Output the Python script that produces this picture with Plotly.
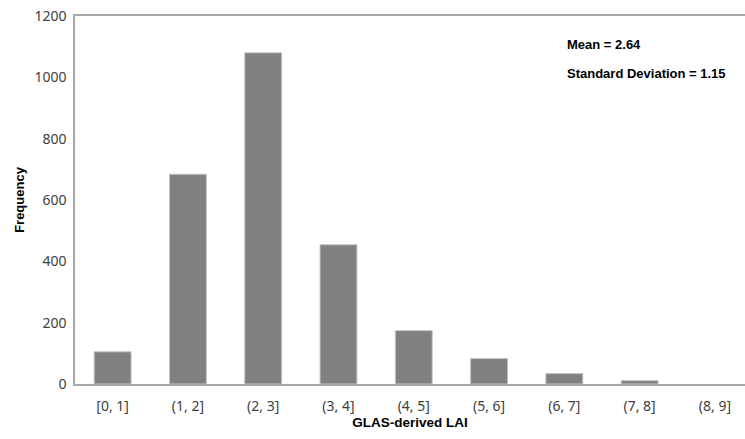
import plotly.graph_objects as go

categories = ["[0, 1]", "(1, 2]", "(2, 3]", "(3, 4]", "(4, 5]", "(5, 6]", "(6, 7]", "(7, 8]", "(8, 9]"]
frequency = [105, 684, 1080, 454, 174, 83, 34, 11, 0]
y_ticks = [0, 200, 400, 600, 800, 1000, 1200]
stats_lines = ["Mean = 2.64", "Standard Deviation = 1.15"]

edge_widths = [1 if v > 0 else 0 for v in frequency]

fig = go.Figure(go.Bar(
    x=list(range(len(categories))), y=frequency,
    marker=dict(color="#808080", line=dict(color="#c4c4c4", width=edge_widths)),
))

fig.update_layout(
    width=745, height=439,
    margin=dict(l=75, r=0, t=15.5, b=54.5),
    paper_bgcolor="white", plot_bgcolor="white",
    bargap=0.51, showlegend=False,
    xaxis=dict(
        range=[-0.5, 8.4], tickmode="array",
        tickvals=list(range(len(categories))), ticktext=categories,
        showline=True, linecolor="#a8a8a8", linewidth=1.5, mirror=True,
        showgrid=False, zeroline=False, ticks="", ticklabelstandoff=8,
        tickfont=dict(family="Noto Sans", size=14, color="#404040"),
        title=dict(text="<b>GLAS-derived LAI</b>", standoff=4,
                   font=dict(family="Liberation Sans", size=13.5, color="black")),
    ),
    yaxis=dict(
        range=[0, 1200], tickmode="array", tickvals=y_ticks,
        showline=True, linecolor="#a8a8a8", linewidth=1.5,
        showgrid=False, zeroline=False, ticks="", ticklabelstandoff=4,
        tickfont=dict(family="Noto Sans", size=14, color="#404040"),
        title=dict(text="<b>Frequency</b>", standoff=7,
                   font=dict(family="Liberation Sans", size=13, color="black")),
    ),
)

for i, (txt, yp) in enumerate(zip(stats_lines, [44, 73])):
    fig.add_annotation(
        text="<b>" + txt + "</b>", xref="paper", yref="paper",
        x=(565 - 75) / 670, y=(384.5 - yp) / 369,
        xanchor="left", yanchor="middle", showarrow=False,
        font=dict(family="Liberation Sans", size=13, color="black"),
    )

fig.write_html("out.html", config={"displayModeBar": False},
               post_script="document.body.style.margin='0';document.body.style.overflow='hidden';")
